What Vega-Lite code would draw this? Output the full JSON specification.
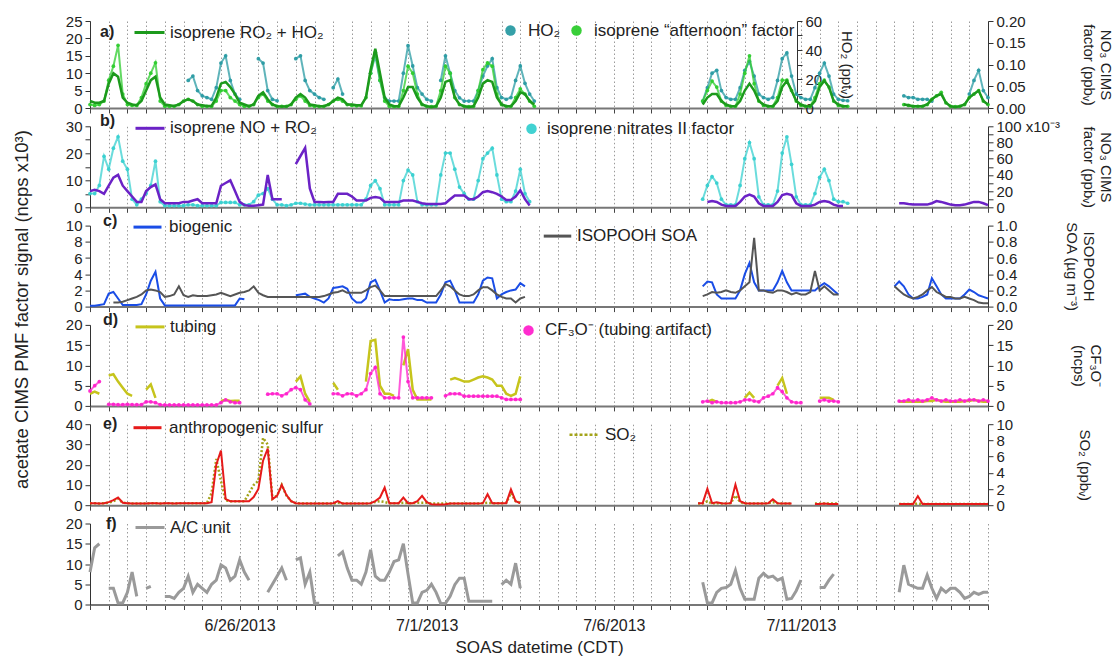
{
"$schema":"https://vega.github.io/schema/vega-lite/v6.json",
"padding":{"left":12,"top":14,"right":2,"bottom":2},
"background":"white",
"spacing":18.3,
"bounds":"flush",
"resolve":{"scale":{"color":"independent"},"legend":{"color":"independent"}},
"config":{
 "view":{"stroke":null},
 "font":"Liberation Sans",
 "axis":{"labelFont":"Liberation Sans","labelFontSize":15,"labelColor":"#222","titleFont":"Liberation Sans","titleFontSize":15,"titleFontWeight":"normal","titleColor":"#222","tickColor":"#333","domainColor":"#333","tickSize":5,"labelPadding":3,"grid":false,"labelOverlap":false,"labelFlush":false},
 "legend":{"labelFont":"Liberation Sans","labelFontSize":17,"labelColor":"#222","padding":0,"labelLimit":400},
 "title":{"font":"Liberation Sans","fontSize":16,"fontWeight":"bold","color":"#222","anchor":"start","frame":"group"}
},
"datasets":{"soas":[
{"t":"2013-06-22T00:00","ro2":2,"aft":0.008,"no":6,"nit":17,"bio":0.1,"tub":3,"cf3":3.7,"sulf":1,"so2":0.25,"ac":8},
{"t":"2013-06-22T03:00","ro2":1.5,"aft":0.006,"no":6.5,"nit":17,"bio":0.1,"tub":3.5,"cf3":5,"sulf":1,"so2":0.25,"ac":14},
{"t":"2013-06-22T06:00","ro2":1.5,"aft":0.008,"no":6,"nit":27,"bio":0.2,"tub":3,"cf3":6,"sulf":0.8,"so2":0.2,"ac":15},
{"t":"2013-06-22T09:00","ro2":2,"aft":0.016,"no":5,"nit":63,"bio":0.3,"sulf":1,"so2":0.25},
{"t":"2013-06-22T12:00","ro2":7,"aft":0.064,"no":8,"nit":47,"bio":1.6,"tub":7.5,"cf3":0.4,"sulf":1.5,"so2":0.3,"ac":4},
{"t":"2013-06-22T15:00","ro2":10,"aft":0.096,"no":11,"nit":73,"bio":1.8,"isop":0.05,"tub":7.8,"cf3":0.4,"sulf":2.5,"so2":0.5,"ac":4},
{"t":"2013-06-22T18:00","ro2":9,"aft":0.144,"no":12,"nit":87,"bio":1,"isop":0.05,"tub":6,"cf3":0.3,"sulf":3.8,"so2":0.8,"ac":0.4},
{"t":"2013-06-22T21:00","ro2":3,"aft":0.032,"no":8,"nit":57,"bio":0.2,"isop":0.06,"tub":4.5,"cf3":0.3,"sulf":1.2,"so2":0.3,"ac":0.4},
{"t":"2013-06-23T00:00","ro2":1.5,"aft":0.008,"no":6,"nit":47,"bio":0.2,"isop":0.08,"tub":3,"cf3":0.4,"sulf":1,"so2":0.25,"ac":3},
{"t":"2013-06-23T03:00","ro2":1,"aft":0.006,"no":4,"nit":10,"bio":0.2,"isop":0.1,"tub":2.5,"cf3":0.3,"sulf":0.8,"so2":0.2,"ac":8},
{"t":"2013-06-23T06:00","ro2":0.8,"aft":0.006,"no":2,"nit":3,"bio":0.2,"isop":0.12,"cf3":0.3,"sulf":0.8,"so2":0.2,"ac":2},
{"t":"2013-06-23T09:00","ro2":2,"aft":0.024,"no":2,"nit":10,"bio":0.3,"isop":0.15,"cf3":0.3,"sulf":0.8,"so2":0.2},
{"t":"2013-06-23T12:00","ro2":5,"aft":0.056,"no":6,"nit":17,"bio":1.5,"isop":0.2,"tub":4,"cf3":1,"sulf":0.9,"so2":0.2,"ac":4},
{"t":"2013-06-23T15:00","ro2":8,"aft":0.08,"no":7.5,"nit":27,"bio":3.2,"isop":0.21,"tub":5.3,"cf3":1,"sulf":1,"so2":0.25,"ac":4.5},
{"t":"2013-06-23T18:00","ro2":9,"aft":0.104,"no":8.5,"nit":57,"bio":4.3,"isop":0.2,"tub":2,"cf3":0.8,"sulf":1,"so2":0.25},
{"t":"2013-06-23T21:00","ro2":3,"aft":0.016,"no":3,"nit":7,"bio":1,"isop":0.18,"cf3":0.3,"sulf":0.8,"so2":0.2},
{"t":"2013-06-24T00:00","ro2":1,"aft":0.004,"no":1.5,"nit":2,"bio":0.15,"isop":0.12,"cf3":0.25,"sulf":1,"so2":0.25,"ac":2},
{"t":"2013-06-24T03:00","ro2":0.8,"aft":0.004,"no":1.5,"nit":2,"bio":0.15,"isop":0.13,"cf3":0.25,"sulf":1,"so2":0.25,"ac":2},
{"t":"2013-06-24T06:00","ro2":0.6,"aft":0.004,"no":1.5,"nit":2,"bio":0.15,"isop":0.15,"cf3":0.25,"sulf":0.9,"so2":0.2,"ac":1.5},
{"t":"2013-06-24T09:00","ro2":1,"aft":0.008,"no":1.5,"nit":2,"bio":0.15,"isop":0.25,"cf3":0.25,"sulf":1,"so2":0.25,"ac":3},
{"t":"2013-06-24T12:00","ro2":2,"aft":0.016,"no":2,"nit":2,"bio":0.15,"isop":0.14,"cf3":0.25,"sulf":1,"so2":0.25,"ac":4},
{"t":"2013-06-24T15:00","ro2":2.5,"ho2":19,"aft":0.02,"no":2,"nit":3,"bio":0.15,"isop":0.12,"cf3":0.25,"sulf":1,"so2":0.25,"ac":7},
{"t":"2013-06-24T18:00","ro2":2,"ho2":22,"aft":0.016,"no":2.5,"nit":3,"bio":0.15,"isop":0.14,"cf3":0.25,"sulf":1,"so2":0.25,"ac":3},
{"t":"2013-06-24T21:00","ro2":1,"ho2":12,"aft":0.008,"no":3,"nit":2,"bio":0.15,"isop":0.13,"cf3":0.25,"sulf":1,"so2":0.25,"ac":5},
{"t":"2013-06-25T00:00","ro2":0.8,"ho2":8.4,"aft":0.004,"no":1.5,"nit":2,"bio":0.15,"isop":0.13,"cf3":0.25,"sulf":1,"so2":0.25,"ac":4},
{"t":"2013-06-25T03:00","ro2":0.6,"ho2":7.2,"aft":0.004,"no":1.5,"nit":2,"bio":0.15,"isop":0.13,"cf3":0.25,"sulf":1,"so2":0.25,"ac":3},
{"t":"2013-06-25T06:00","ro2":0.6,"ho2":6,"aft":0.004,"no":1.5,"nit":2,"bio":0.15,"isop":0.14,"cf3":0.25,"sulf":1.5,"so2":1.5,"ac":5},
{"t":"2013-06-25T09:00","ro2":3,"ho2":14,"aft":0.016,"no":1.5,"nit":2,"bio":0.15,"isop":0.15,"cf3":0.25,"sulf":20,"so2":5.7,"ac":6},
{"t":"2013-06-25T12:00","ro2":7,"ho2":31,"aft":0.04,"no":8,"nit":6,"bio":0.15,"isop":0.17,"tub":1.2,"cf3":0.8,"sulf":27,"so2":3,"ac":9.8},
{"t":"2013-06-25T15:00","ro2":7.5,"ho2":36,"aft":0.04,"no":9,"nit":6,"bio":0.15,"isop":0.15,"tub":1.5,"cf3":1.5,"sulf":3,"so2":0.6,"ac":9},
{"t":"2013-06-25T18:00","ro2":6,"ho2":19,"aft":0.024,"no":10,"nit":6,"bio":0.15,"isop":0.13,"tub":1.2,"cf3":1,"sulf":2,"so2":0.5,"ac":6},
{"t":"2013-06-25T21:00","ro2":4,"ho2":9.6,"aft":0.016,"no":6,"nit":6,"bio":0.15,"isop":0.15,"tub":1.3,"cf3":0.8,"sulf":2,"so2":0.5,"ac":7},
{"t":"2013-06-26T00:00","ro2":1.5,"ho2":6,"aft":0.008,"no":2,"nit":3,"bio":1,"isop":0.17,"tub":1.3,"cf3":0.8,"sulf":2,"so2":0.5,"ac":11},
{"t":"2013-06-26T03:00","ro2":1,"aft":0.004,"no":0.8,"nit":3,"bio":0.9,"isop":0.18,"sulf":2,"so2":0.5,"ac":8},
{"t":"2013-06-26T06:00","ro2":0.5,"aft":0.004,"no":0.6,"nit":3,"isop":0.2,"sulf":2,"so2":1.5,"ac":6},
{"t":"2013-06-26T09:00","ro2":1,"aft":0.008,"no":0.6,"nit":7,"isop":0.25,"sulf":4,"so2":2.5},
{"t":"2013-06-26T12:00","ro2":3.5,"ho2":34,"aft":0.024,"no":0.8,"nit":15,"isop":0.17,"sulf":8,"so2":3},
{"t":"2013-06-26T15:00","ro2":4.5,"ho2":31,"aft":0.032,"no":1,"nit":17,"isop":0.14,"sulf":22,"so2":8.3},
{"t":"2013-06-26T18:00","ro2":2.5,"ho2":12,"aft":0.016,"no":12,"nit":23,"isop":0.12,"cf3":2.9,"sulf":28,"so2":7.5,"ac":3},
{"t":"2013-06-26T21:00","ro2":1,"ho2":6,"aft":0.008,"no":3,"nit":10,"isop":0.12,"cf3":3,"sulf":3,"so2":0.8,"ac":5},
{"t":"2013-06-27T00:00","ro2":0.5,"ho2":5,"aft":0.004,"no":3,"nit":3,"isop":0.12,"cf3":3,"sulf":4.6,"so2":1.2,"ac":7},
{"t":"2013-06-27T03:00","ro2":0.4,"aft":0.004,"no":3,"nit":3,"isop":0.12,"cf3":2.5,"sulf":10,"so2":2.5,"ac":9},
{"t":"2013-06-27T06:00","ro2":0.4,"aft":0.004,"nit":2,"isop":0.12,"cf3":3,"sulf":5,"so2":1.2,"ac":6},
{"t":"2013-06-27T09:00","ro2":1,"aft":0.008,"nit":3,"isop":0.12,"cf3":4,"sulf":2,"so2":0.5},
{"t":"2013-06-27T12:00","ro2":3,"ho2":34,"aft":0.02,"no":16,"nit":5,"bio":1.4,"isop":0.12,"tub":6,"cf3":4.5,"sulf":1,"so2":0.25,"ac":11},
{"t":"2013-06-27T15:00","ro2":4,"ho2":36,"aft":0.028,"no":19,"nit":5,"bio":1.5,"isop":0.12,"tub":7.3,"cf3":4,"sulf":0.8,"so2":0.2,"ac":11.5},
{"t":"2013-06-27T18:00","ro2":3,"ho2":19,"aft":0.016,"no":22,"nit":4,"bio":1.6,"isop":0.12,"tub":3,"cf3":1.5,"sulf":0.8,"so2":0.2,"ac":5},
{"t":"2013-06-27T21:00","ro2":1,"ho2":12,"aft":0.006,"no":7,"nit":3,"bio":1.2,"isop":0.12,"tub":1,"cf3":0.5,"sulf":0.8,"so2":0.2,"ac":8},
{"t":"2013-06-28T00:00","ro2":0.8,"ho2":9.6,"aft":0.004,"no":2,"nit":3,"bio":1,"isop":0.12,"sulf":0.8,"so2":0.2,"ac":0.3},
{"t":"2013-06-28T03:00","ro2":0.5,"ho2":7.2,"aft":0.004,"no":2,"nit":3,"bio":0.8,"isop":0.12,"sulf":0.8,"so2":0.2,"ac":0.3},
{"t":"2013-06-28T06:00","ro2":0.5,"ho2":6,"aft":0.004,"no":1.9,"nit":3,"bio":0.5,"isop":0.13,"sulf":0.8,"so2":0.2},
{"t":"2013-06-28T09:00","ro2":1,"aft":0.008,"no":2,"nit":3,"bio":1,"isop":0.15,"sulf":0.8,"so2":0.2},
{"t":"2013-06-28T12:00","ro2":2,"ho2":14,"aft":0.016,"no":2,"nit":3,"bio":2.3,"isop":0.17,"tub":5.7,"cf3":3,"sulf":1,"so2":0.2},
{"t":"2013-06-28T15:00","ro2":3,"ho2":20,"aft":0.02,"no":5,"nit":3,"bio":2.4,"isop":0.18,"tub":4,"cf3":3,"sulf":2,"so2":0.3,"ac":12},
{"t":"2013-06-28T18:00","ro2":2.5,"ho2":9.6,"aft":0.016,"no":5,"nit":3,"bio":2.5,"isop":0.2,"cf3":2.5,"sulf":0.8,"so2":0.2,"ac":13},
{"t":"2013-06-28T21:00","ro2":1,"aft":0.008,"no":5,"nit":3,"bio":2.2,"isop":0.17,"cf3":3,"sulf":0.8,"so2":0.2,"ac":9},
{"t":"2013-06-29T00:00","ro2":1,"aft":0.006,"no":4,"nit":3,"bio":1,"isop":0.17,"cf3":3,"sulf":0.8,"so2":0.2,"ac":6},
{"t":"2013-06-29T03:00","ro2":0.8,"aft":0.005,"no":2.5,"nit":3,"bio":0.5,"isop":0.17,"cf3":2.5,"sulf":0.8,"so2":0.2,"ac":6},
{"t":"2013-06-29T06:00","ro2":0.8,"aft":0.005,"no":2.5,"nit":3,"bio":0.5,"isop":0.17,"cf3":3,"sulf":0.8,"so2":0.2,"ac":5},
{"t":"2013-06-29T09:00","ro2":3,"aft":0.024,"no":2.5,"nit":10,"bio":1,"isop":0.2,"tub":6,"cf3":4,"sulf":0.8,"so2":0.2,"ac":8},
{"t":"2013-06-29T12:00","ro2":11,"ho2":24,"aft":0.08,"no":3.5,"nit":27,"bio":3,"isop":0.24,"tub":16,"cf3":8,"sulf":1,"so2":0.25,"ac":13.5},
{"t":"2013-06-29T15:00","ro2":17,"ho2":36,"aft":0.128,"no":3.8,"nit":33,"bio":3.3,"isop":0.26,"tub":16.3,"cf3":9.5,"sulf":2,"so2":0.4,"ac":7},
{"t":"2013-06-29T18:00","ro2":10,"ho2":19,"aft":0.064,"no":3.5,"nit":23,"bio":2,"isop":0.2,"tub":5,"cf3":3,"sulf":3.8,"so2":0.5,"ac":6},
{"t":"2013-06-29T21:00","ro2":3,"ho2":7,"aft":0.016,"no":2,"nit":3,"bio":0.5,"isop":0.13,"tub":3,"cf3":2,"sulf":8.7,"so2":0.4,"ac":6},
{"t":"2013-06-30T00:00","ro2":1,"ho2":4.8,"aft":0.004,"no":2,"nit":3,"bio":0.9,"isop":0.13,"tub":3,"cf3":2,"sulf":1,"so2":0.25,"ac":8},
{"t":"2013-06-30T03:00","ro2":0.5,"ho2":4.8,"aft":0.003,"no":2,"nit":3,"bio":0.8,"isop":0.13,"tub":2.5,"cf3":2,"sulf":1,"so2":0.25,"ac":10.6},
{"t":"2013-06-30T06:00","ro2":0.5,"ho2":4.8,"aft":0.004,"no":2,"nit":3,"bio":0.8,"isop":0.13,"cf3":2,"sulf":1,"so2":0.25,"ac":11},
{"t":"2013-06-30T09:00","ro2":3,"ho2":24,"aft":0.04,"no":2.5,"nit":33,"bio":0.9,"isop":0.13,"tub":10,"cf3":17,"sulf":3.8,"so2":0.3,"ac":15},
{"t":"2013-06-30T12:00","ro2":6,"ho2":43,"aft":0.096,"no":2.5,"nit":46,"bio":1,"isop":0.13,"tub":14,"cf3":6,"sulf":1,"so2":0.25,"ac":7.5},
{"t":"2013-06-30T15:00","ro2":6,"ho2":29,"aft":0.08,"no":2.5,"nit":40,"bio":1,"isop":0.13,"tub":4,"cf3":2,"sulf":1,"so2":0.25,"ac":0.4},
{"t":"2013-06-30T18:00","ro2":3,"ho2":14,"aft":0.032,"no":2,"nit":7,"bio":0.8,"isop":0.13,"tub":1.6,"cf3":2,"sulf":2,"so2":0.3,"ac":0.4},
{"t":"2013-06-30T21:00","ro2":1,"ho2":9.6,"aft":0.008,"no":1.5,"nit":3,"bio":0.8,"isop":0.13,"tub":1.6,"cf3":2,"sulf":4.6,"so2":0.3,"ac":3},
{"t":"2013-07-01T00:00","ro2":0.5,"ho2":6,"aft":0.004,"no":1.2,"nit":3,"bio":0.5,"isop":0.13,"tub":1.6,"cf3":2,"sulf":1.5,"so2":0.3,"ac":3.5},
{"t":"2013-07-01T03:00","ro2":0.3,"ho2":4.8,"aft":0.003,"no":1.2,"nit":3,"bio":0.5,"isop":0.13,"tub":1.6,"cf3":2,"sulf":0.5,"so2":0.2,"ac":5},
{"t":"2013-07-01T06:00","ro2":0.5,"aft":0.004,"no":1.2,"nit":3,"bio":0.5,"isop":0.13,"sulf":0.3,"so2":0.2,"ac":3},
{"t":"2013-07-01T09:00","ro2":3,"ho2":19,"aft":0.04,"no":1.2,"nit":40,"bio":1.5,"isop":0.2,"sulf":0.3,"so2":0.2,"ac":0.2},
{"t":"2013-07-01T12:00","ro2":7.5,"ho2":36,"aft":0.096,"no":1.5,"nit":67,"bio":3,"isop":0.28,"cf3":2.5,"sulf":0.5,"so2":0.2,"ac":0.3},
{"t":"2013-07-01T15:00","ro2":8,"ho2":24,"aft":0.08,"no":3,"nit":67,"bio":3.2,"isop":0.25,"tub":6.5,"cf3":3,"sulf":0.8,"so2":0.2,"ac":2},
{"t":"2013-07-01T18:00","ro2":3,"ho2":12,"aft":0.024,"no":4.4,"nit":47,"bio":2,"isop":0.2,"tub":6.9,"cf3":3,"sulf":0.8,"so2":0.2,"ac":4.9},
{"t":"2013-07-01T21:00","ro2":1,"ho2":7,"aft":0.008,"no":4.4,"nit":25,"bio":0.5,"isop":0.15,"tub":6.5,"cf3":3,"sulf":0.8,"so2":0.2,"ac":6.5},
{"t":"2013-07-02T00:00","ro2":0.5,"ho2":4.8,"aft":0.004,"no":4.4,"nit":17,"bio":0.5,"isop":0.13,"tub":6,"cf3":2.4,"sulf":0.8,"so2":0.2,"ac":6.5},
{"t":"2013-07-02T03:00","ro2":0.3,"ho2":4.8,"aft":0.003,"no":3,"nit":10,"bio":0.5,"isop":0.13,"tub":6,"cf3":2.4,"sulf":0.8,"so2":0.2,"ac":0.8},
{"t":"2013-07-02T06:00","ro2":0.5,"ho2":4.8,"aft":0.004,"no":3,"nit":10,"bio":0.5,"isop":0.15,"tub":6.5,"cf3":2.4,"sulf":0.8,"so2":0.2,"ac":0.8},
{"t":"2013-07-02T09:00","ro2":3,"ho2":12,"aft":0.04,"no":4,"nit":33,"bio":1.5,"isop":0.2,"tub":7,"cf3":2.4,"sulf":0.8,"so2":0.2,"ac":0.8},
{"t":"2013-07-02T12:00","ro2":7,"ho2":22,"aft":0.088,"no":5.6,"nit":60,"bio":3.2,"isop":0.24,"tub":7.3,"cf3":2.4,"sulf":1,"so2":0.25,"ac":0.8},
{"t":"2013-07-02T15:00","ro2":8,"ho2":29,"aft":0.104,"no":6,"nit":67,"bio":3.6,"isop":0.24,"tub":7,"cf3":2.4,"sulf":5.4,"so2":0.3,"ac":0.8},
{"t":"2013-07-02T18:00","ro2":7.5,"ho2":34,"aft":0.096,"no":5.6,"nit":73,"bio":3.5,"isop":0.2,"tub":6.5,"cf3":2.4,"sulf":1,"so2":0.25,"ac":0.8},
{"t":"2013-07-02T21:00","ro2":3,"ho2":14,"aft":0.032,"no":5,"nit":40,"bio":1,"isop":0.15,"tub":5,"cf3":2.4,"sulf":1,"so2":0.25},
{"t":"2013-07-03T00:00","ro2":1,"ho2":7.2,"aft":0.008,"no":4,"nit":10,"bio":1.5,"isop":0.12,"tub":5,"cf3":2,"sulf":1,"so2":0.25,"ac":4.9},
{"t":"2013-07-03T03:00","ro2":0.5,"ho2":6,"aft":0.004,"no":2.7,"nit":7,"bio":1.8,"isop":0.1,"tub":3,"cf3":1.6,"sulf":1,"so2":0.3,"ac":6},
{"t":"2013-07-03T06:00","ro2":0.5,"ho2":7.2,"aft":0.004,"no":2.7,"nit":7,"bio":2,"isop":0.1,"tub":2.5,"cf3":1.6,"sulf":7.8,"so2":1.5,"ac":5},
{"t":"2013-07-03T09:00","ro2":2,"ho2":19,"aft":0.024,"no":4,"nit":20,"bio":2.1,"isop":0.05,"tub":3,"cf3":1.6,"sulf":2,"so2":0.5,"ac":10.2},
{"t":"2013-07-03T12:00","ro2":4.5,"ho2":29,"aft":0.044,"no":6.3,"nit":47,"bio":2.9,"isop":0.1,"tub":7.3,"cf3":1.6,"sulf":1,"so2":0.3,"ac":4},
{"t":"2013-07-03T15:00","ro2":4,"ho2":17,"aft":0.032,"no":3,"nit":17,"bio":2.5,"isop":0.12},
{"t":"2013-07-03T18:00","ro2":2,"ho2":9.6,"aft":0.016,"no":0.7,"nit":7},
{"t":"2013-07-03T21:00","ro2":1,"ho2":4.8,"aft":0.004},
{"t":"2013-07-05T12:00"},
{"t":"2013-07-08T06:00","sulf":1,"so2":0.2},
{"t":"2013-07-08T09:00","ro2":1,"ho2":4.8,"aft":0.016,"nit":10,"bio":2.5,"isop":0.13,"cf3":1,"sulf":1,"so2":0.2,"ac":5.5},
{"t":"2013-07-08T12:00","ro2":3,"ho2":14,"aft":0.04,"no":2,"nit":27,"bio":3.1,"isop":0.15,"tub":1,"cf3":1.2,"sulf":8.1,"so2":0.5,"ac":0.4},
{"t":"2013-07-08T15:00","ro2":4,"ho2":24,"aft":0.062,"no":2.3,"nit":38,"bio":3,"isop":0.18,"tub":1.5,"cf3":0.8,"sulf":1,"so2":0.2,"ac":0.4},
{"t":"2013-07-08T18:00","ro2":4,"ho2":26,"aft":0.048,"no":2,"nit":30,"bio":1.5,"isop":0.17,"tub":1,"cf3":1,"sulf":1.5,"so2":0.25,"ac":3},
{"t":"2013-07-08T21:00","ro2":2,"ho2":12,"aft":0.016,"no":1,"nit":10,"bio":1,"isop":0.18,"cf3":0.8,"sulf":1,"so2":0.2,"ac":4},
{"t":"2013-07-09T00:00","ro2":1,"ho2":7.2,"aft":0.006,"no":0.5,"nit":3,"bio":1,"isop":0.2,"cf3":0.8,"sulf":0.8,"so2":0.2,"ac":4.2},
{"t":"2013-07-09T03:00","ro2":0.5,"ho2":6,"aft":0.004,"no":0.5,"nit":3,"bio":1,"isop":0.18,"cf3":0.8,"sulf":1,"so2":0.25,"ac":5},
{"t":"2013-07-09T06:00","ro2":0.5,"ho2":6,"aft":0.004,"no":0.5,"nit":3,"bio":1,"isop":0.17,"cf3":0.8,"sulf":10.2,"so2":1.2,"ac":8.4},
{"t":"2013-07-09T09:00","ro2":2,"ho2":14,"aft":0.032,"no":2,"nit":27,"bio":2,"isop":0.2,"cf3":1,"sulf":2,"so2":0.4,"ac":4},
{"t":"2013-07-09T12:00","ro2":5,"ho2":26,"aft":0.08,"no":4,"nit":60,"bio":4,"isop":0.25,"tub":2,"cf3":1.5,"sulf":1,"so2":0.2,"ac":1.3},
{"t":"2013-07-09T15:00","ro2":7,"ho2":32,"aft":0.12,"no":4.7,"nit":80,"bio":5.4,"isop":0.3,"tub":3.3,"cf3":1.5,"sulf":0.8,"so2":0.2,"ac":1.3},
{"t":"2013-07-09T18:00","ro2":5,"ho2":22,"aft":0.056,"no":4,"nit":60,"bio":3,"isop":0.85,"tub":2,"cf3":1.2,"sulf":0.8,"so2":0.2,"ac":1.3},
{"t":"2013-07-09T21:00","ro2":2,"ho2":9.6,"aft":0.016,"no":1.5,"nit":13,"bio":2,"isop":0.2,"cf3":1,"sulf":0.8,"so2":0.2,"ac":6.5},
{"t":"2013-07-10T00:00","ro2":1,"ho2":7.2,"aft":0.006,"no":0.5,"nit":3,"bio":2,"isop":0.2,"cf3":2,"sulf":0.8,"so2":0.2,"ac":7.7},
{"t":"2013-07-10T03:00","ro2":0.5,"ho2":6,"aft":0.004,"no":0.5,"nit":3,"bio":2,"isop":0.18,"cf3":2.4,"sulf":1,"so2":0.25,"ac":6.7},
{"t":"2013-07-10T06:00","ro2":0.5,"ho2":7.2,"aft":0.004,"no":0.5,"nit":3,"bio":2,"isop":0.17,"cf3":3,"sulf":2.9,"so2":0.4,"ac":7},
{"t":"2013-07-10T09:00","ro2":2,"ho2":19,"aft":0.024,"no":2,"nit":20,"bio":3,"isop":0.2,"tub":5,"cf3":4.5,"sulf":1,"so2":0.25,"ac":6},
{"t":"2013-07-10T12:00","ro2":6,"ho2":34,"aft":0.064,"no":4.5,"nit":67,"bio":4.4,"isop":0.2,"tub":6.9,"cf3":3.5,"sulf":0.8,"so2":0.2,"ac":6.5},
{"t":"2013-07-10T15:00","ro2":7.8,"ho2":38,"aft":0.064,"no":5,"nit":87,"bio":3,"isop":0.18,"tub":3,"cf3":2,"sulf":0.8,"so2":0.2,"ac":1.3},
{"t":"2013-07-10T18:00","ro2":5,"ho2":22,"aft":0.04,"no":4.5,"nit":53,"bio":2,"isop":0.15,"cf3":1,"sulf":0.8,"so2":0.2,"ac":1.5},
{"t":"2013-07-10T21:00","ro2":2,"ho2":9.6,"aft":0.016,"no":1.5,"nit":13,"bio":2,"isop":0.17,"cf3":0.8,"ac":3.4},
{"t":"2013-07-11T00:00","ro2":1,"ho2":7.2,"aft":0.006,"no":0.5,"nit":3,"bio":2,"isop":0.15,"cf3":0.8,"ac":6},
{"t":"2013-07-11T03:00","ro2":0.5,"ho2":6,"aft":0.004,"no":0.5,"nit":3,"bio":2,"isop":0.15},
{"t":"2013-07-11T06:00","ro2":0.5,"ho2":6,"aft":0.004,"no":0.5,"nit":3,"bio":2,"isop":0.18},
{"t":"2013-07-11T09:00","ro2":2,"ho2":14,"aft":0.024,"no":1,"nit":17,"bio":2,"isop":0.44,"sulf":0.6,"so2":0.2},
{"t":"2013-07-11T12:00","ro2":6,"ho2":24,"aft":0.056,"no":2,"nit":37,"bio":2.5,"isop":0.2,"tub":2,"cf3":1.2,"sulf":0.6,"so2":0.2,"ac":4.2},
{"t":"2013-07-11T15:00","ro2":7.8,"ho2":31,"aft":0.064,"no":2.3,"nit":47,"bio":2.9,"isop":0.25,"tub":2,"cf3":1.5,"sulf":0.8,"so2":0.2,"ac":4.2},
{"t":"2013-07-11T18:00","ro2":6,"ho2":22,"aft":0.048,"no":2,"nit":33,"bio":2.5,"isop":0.2,"tub":2,"cf3":1.2,"sulf":0.6,"so2":0.2,"ac":6},
{"t":"2013-07-11T21:00","ro2":2,"ho2":9.6,"aft":0.016,"no":1,"nit":10,"bio":2,"isop":0.15,"tub":1.5,"cf3":1.2,"sulf":0.6,"so2":0.2,"ac":7.5},
{"t":"2013-07-12T00:00","ro2":1,"ho2":6,"aft":0.006,"no":0.5,"nit":7,"bio":1.5,"isop":0.15,"cf3":1,"sulf":0.6,"so2":0.2},
{"t":"2013-07-12T03:00","ro2":0.5,"ho2":5.3,"aft":0.004,"no":0.5,"nit":7},
{"t":"2013-07-12T06:00","ro2":0.5,"ho2":5,"aft":0.004,"nit":5},
{"t":"2013-07-12T18:00"},
{"t":"2013-07-13T12:00","bio":2.5,"isop":0.25},
{"t":"2013-07-13T15:00","no":1.5,"bio":3.1,"isop":0.2,"tub":1,"cf3":1.2,"sulf":0.6,"so2":0.15,"ac":3},
{"t":"2013-07-13T18:00","ro2":1,"ho2":8.4,"aft":0.008,"no":1.5,"bio":2.5,"isop":0.15,"tub":1,"cf3":1.2,"sulf":0.6,"so2":0.15,"ac":9.7},
{"t":"2013-07-13T21:00","ro2":0.8,"ho2":7.2,"aft":0.006,"no":1.2,"bio":1.5,"isop":0.12,"tub":1,"cf3":1.5,"sulf":0.6,"so2":0.15,"ac":5},
{"t":"2013-07-14T00:00","ro2":0.5,"ho2":7.2,"aft":0.004,"no":1,"bio":1,"isop":0.1,"tub":1,"cf3":1.2,"sulf":0.6,"so2":0.15,"ac":4.5},
{"t":"2013-07-14T03:00","ro2":0.5,"ho2":6,"aft":0.004,"no":1,"bio":1,"isop":0.12,"tub":1,"cf3":1.5,"sulf":4.5,"so2":0.2,"ac":4},
{"t":"2013-07-14T06:00","ro2":0.5,"ho2":6,"aft":0.004,"no":1,"bio":1.2,"isop":0.15,"tub":1,"cf3":1.2,"sulf":0.6,"so2":0.15,"ac":4},
{"t":"2013-07-14T09:00","ro2":1,"ho2":6,"aft":0.008,"no":1,"bio":1.5,"isop":0.2,"tub":1.2,"cf3":1.5,"sulf":0.6,"so2":0.15,"ac":7.3},
{"t":"2013-07-14T12:00","ro2":2.5,"ho2":4.8,"aft":0.02,"no":1.5,"bio":3.5,"isop":0.24,"tub":1.2,"cf3":2,"sulf":0.6,"so2":0.15,"ac":4},
{"t":"2013-07-14T15:00","ro2":3.5,"aft":0.028,"no":2.3,"bio":2.5,"isop":0.18,"tub":1.5,"cf3":1.5,"sulf":0.6,"so2":0.15,"ac":1.5},
{"t":"2013-07-14T18:00","ro2":4,"aft":0.036,"no":2,"bio":1.5,"isop":0.15,"tub":1.2,"cf3":1.2,"sulf":0.6,"so2":0.15,"ac":4},
{"t":"2013-07-14T21:00","ro2":1.5,"aft":0.012,"no":1.5,"bio":1,"isop":0.12,"tub":1,"cf3":1.5,"sulf":0.6,"so2":0.15,"ac":3},
{"t":"2013-07-15T00:00","ro2":0.5,"aft":0.004,"no":1,"bio":1,"isop":0.12,"tub":1,"cf3":1.2,"sulf":0.6,"so2":0.15,"ac":4},
{"t":"2013-07-15T03:00","ro2":0.3,"aft":0.003,"no":0.8,"bio":1,"isop":0.1,"tub":1,"cf3":1.2,"sulf":0.6,"so2":0.15,"ac":4},
{"t":"2013-07-15T06:00","ro2":0.5,"aft":0.004,"no":0.8,"bio":1,"isop":0.1,"tub":1,"cf3":1.5,"sulf":0.6,"so2":0.15,"ac":3},
{"t":"2013-07-15T09:00","ro2":1,"aft":0.008,"no":1,"bio":1.5,"isop":0.12,"tub":1.2,"cf3":1.2,"sulf":0.6,"so2":0.15,"ac":1.5},
{"t":"2013-07-15T12:00","ro2":3,"ho2":9.6,"aft":0.024,"no":1.5,"bio":2.1,"isop":0.1,"tub":1.2,"cf3":1.5,"sulf":0.6,"so2":0.15,"ac":2},
{"t":"2013-07-15T15:00","ro2":4,"ho2":19,"aft":0.032,"no":2,"bio":1.8,"isop":0.08,"tub":1.5,"cf3":1.5,"sulf":0.6,"so2":0.15,"ac":3},
{"t":"2013-07-15T18:00","ro2":5,"ho2":26,"aft":0.04,"no":2,"bio":1.4,"isop":0.05,"tub":1.2,"cf3":1.2,"sulf":0.6,"so2":0.15,"ac":2.5},
{"t":"2013-07-15T21:00","ro2":2,"ho2":12,"aft":0.016,"no":1.5,"bio":1.2,"isop":0.04,"tub":1,"cf3":1.5,"sulf":0.6,"so2":0.15,"ac":3},
{"t":"2013-07-16T00:00","ro2":1,"ho2":7.2,"aft":0.008,"no":0.8,"bio":1,"isop":0.04,"tub":1,"cf3":1.2,"sulf":0.6,"so2":0.15,"ac":3}
]},
"vconcat":[
{
 "width":898,"height":87,
 "title":{"text":"a)","dx":10,"offset":-26},
 "data":{"name":"soas"},
 "resolve":{"scale":{"y":"independent","color":"independent"},"axis":{"y":"independent"},"legend":{"color":"independent"}},
 "layer":[
  {"layer":[
   {"mark":{"type":"line","color":"#2a9ba3","strokeWidth":2,"opacity":0.75},
    "encoding":{"x":{"field":"t","type":"temporal","scale":{"domain":["2013-06-22T00:00","2013-07-16T00:00"],"nice":false},"axis":{"tickCount":48,"labels":false,"title":null,"grid":true,"gridDash":[1.5,2.5],"gridColor":"#9a9a9a","domainColor":"#777","domainWidth":2,"tickColor":"#444"}},
     "y":{"field":"ho2","type":"quantitative","scale":{"domain":[0,60],"nice":false},"axis":{"orient":"right","offset":-191,"values":[0,10,20,30,40,50,60],"labelOverlap":false,"labelExpr":"datum.value % 20 == 0 ? datum.label : ''","title":"HO₂ (pptᵥ)","titleX":41}}}},
   {"mark":{"type":"point","filled":true,"size":14,"opacity":0.95},
    "encoding":{"x":{"field":"t","type":"temporal"},
     "y":{"field":"ho2","type":"quantitative","scale":{"domain":[0,60],"nice":false},"axis":{"orient":"right","offset":-191,"values":[0,10,20,30,40,50,60],"labelOverlap":false,"labelExpr":"datum.value % 20 == 0 ? datum.label : ''","title":"HO₂ (pptᵥ)","titleX":41}},
     "color":{"datum":"HO₂","scale":{"range":["#2a9ba3"]},"legend":{"orient":"none","legendX":412,"legendY":1,"title":null,"symbolSize":110,"labelOffset":9}}}}
  ]},
  {"layer":[
   {"mark":{"type":"line","color":"#2ecc2e","strokeWidth":2,"opacity":0.75},
    "encoding":{"x":{"field":"t","type":"temporal"},
     "y":{"field":"aft","type":"quantitative","scale":{"domain":[0,0.2],"nice":false},"axis":{"orient":"right","values":[0,0.05,0.1,0.15,0.2],"format":".2f","labelOverlap":false,"title":["NO₃ CIMS","factor (ppbᵥ)"],"titleX":109}}}},
   {"mark":{"type":"point","filled":true,"size":14,"opacity":0.95},
    "encoding":{"x":{"field":"t","type":"temporal"},
     "y":{"field":"aft","type":"quantitative","scale":{"domain":[0,0.2],"nice":false},"axis":{"orient":"right","values":[0,0.05,0.1,0.15,0.2],"format":".2f","labelOverlap":false,"title":["NO₃ CIMS","factor (ppbᵥ)"],"titleX":109}},
     "color":{"datum":"isoprene “afternoon” factor","scale":{"range":["#2ecc2e"]},"legend":{"orient":"none","legendX":478,"legendY":1,"title":null,"symbolSize":110,"labelOffset":9}}}}
  ]},
  {"mark":{"type":"line","strokeWidth":2.5},
   "encoding":{"x":{"field":"t","type":"temporal"},
    "y":{"field":"ro2","type":"quantitative","scale":{"domain":[0,25],"nice":false},"axis":{"orient":"left","values":[0,5,10,15,20,25],"title":"acetate CIMS PMF factor signal (ncps x10³)","titleFontSize":18.5,"titleX":-59,"titleY":288}},
    "color":{"datum":"isoprene RO₂ + HO₂","scale":{"range":["#1c9a1c"]},"legend":{"orient":"none","legendX":43,"legendY":-5,"title":null,"symbolSize":900,"symbolStrokeWidth":3,"labelOffset":4}}}}
 ]
},
{
 "width":898,"height":81,
 "title":{"text":"b)","dx":10,"offset":-17},
 "data":{"name":"soas"},
 "resolve":{"scale":{"y":"independent","color":"independent"},"axis":{"y":"independent"},"legend":{"color":"independent"}},
 "layer":[
  {"layer":[
   {"mark":{"type":"line","color":"#38d0d0","strokeWidth":2,"opacity":0.75},
    "encoding":{"x":{"field":"t","type":"temporal","scale":{"domain":["2013-06-22T00:00","2013-07-16T00:00"],"nice":false},"axis":{"tickCount":48,"labels":false,"title":null,"grid":true,"gridDash":[1.5,2.5],"gridColor":"#9a9a9a","domainColor":"#777","domainWidth":2,"tickColor":"#444"}},
     "y":{"field":"nit","type":"quantitative","scale":{"domain":[0,100],"nice":false},"axis":{"orient":"right","values":[0,10,20,30,40,50,60,70,80,90,100],"labelOverlap":false,"labelExpr":"datum.value == 100 ? '100 x10⁻³' : (datum.value % 20 == 0 ? datum.label : '')","title":["NO₃ CIMS","factor (ppbᵥ)"],"titleX":109}}}},
   {"mark":{"type":"point","filled":true,"size":14,"opacity":0.95},
    "encoding":{"x":{"field":"t","type":"temporal"},
     "y":{"field":"nit","type":"quantitative","scale":{"domain":[0,100],"nice":false},"axis":{"orient":"right","values":[0,10,20,30,40,50,60,70,80,90,100],"labelOverlap":false,"labelExpr":"datum.value == 100 ? '100 x10⁻³' : (datum.value % 20 == 0 ? datum.label : '')","title":["NO₃ CIMS","factor (ppbᵥ)"],"titleX":109}},
     "color":{"datum":"isoprene nitrates II factor","scale":{"range":["#38d0d0"]},"legend":{"orient":"none","legendX":433,"legendY":-6,"title":null,"symbolSize":110,"labelOffset":7}}}}
  ]},
  {"mark":{"type":"line","strokeWidth":2.5},
   "encoding":{"x":{"field":"t","type":"temporal"},
    "y":{"field":"no","type":"quantitative","scale":{"domain":[0,30],"nice":false},"axis":{"orient":"left","values":[0,5,10,15,20,25,30],"labelOverlap":false,"labelExpr":"datum.value % 10 == 0 ? datum.label : ''","title":null}},
    "color":{"datum":"isoprene NO + RO₂","scale":{"range":["#6b22c6"]},"legend":{"orient":"none","legendX":44,"legendY":-14,"title":null,"symbolSize":841,"symbolStrokeWidth":3,"labelOffset":4}}}}
 ]
},
{
 "width":898,"height":81,
 "title":{"text":"c)","dx":13,"offset":-17},
 "data":{"name":"soas"},
 "resolve":{"scale":{"y":"independent","color":"independent"},"axis":{"y":"independent"},"legend":{"color":"independent"}},
 "layer":[
  {"mark":{"type":"line","strokeWidth":2},
   "encoding":{"x":{"field":"t","type":"temporal","scale":{"domain":["2013-06-22T00:00","2013-07-16T00:00"],"nice":false},"axis":{"tickCount":48,"labels":false,"title":null,"grid":true,"gridDash":[1.5,2.5],"gridColor":"#9a9a9a","domainColor":"#777","domainWidth":2,"tickColor":"#444"}},
    "y":{"field":"bio","type":"quantitative","scale":{"domain":[0,10],"nice":false},"axis":{"orient":"left","values":[0,2,4,6,8,10],"title":null}},
    "color":{"datum":"biogenic","scale":{"range":["#1a4de6"]},"legend":{"orient":"none","legendX":42,"legendY":-14,"title":null,"symbolSize":784,"symbolStrokeWidth":3,"labelOffset":6}}}},
  {"mark":{"type":"line","strokeWidth":2},
   "encoding":{"x":{"field":"t","type":"temporal"},
    "y":{"field":"isop","type":"quantitative","scale":{"domain":[0,1],"nice":false},"axis":{"orient":"right","values":[0,0.2,0.4,0.6,0.8,1],"format":".1f","title":["ISOPOOH","SOA (µg m⁻³)"],"titleX":92}},
    "color":{"datum":"ISOPOOH SOA","scale":{"range":["#555555"]},"legend":{"orient":"none","legendX":452,"legendY":-5,"title":null,"symbolSize":756,"symbolStrokeWidth":3,"labelOffset":4}}}}
 ]
},
{
 "width":898,"height":81,
 "title":{"text":"d)","dx":13,"offset":-17},
 "data":{"name":"soas"},
 "resolve":{"scale":{"y":"independent","color":"independent"},"axis":{"y":"independent"},"legend":{"color":"independent"}},
 "layer":[
  {"mark":{"type":"line","strokeWidth":2.5},
   "encoding":{"x":{"field":"t","type":"temporal","scale":{"domain":["2013-06-22T00:00","2013-07-16T00:00"],"nice":false},"axis":{"tickCount":48,"labels":false,"title":null,"grid":true,"gridDash":[1.5,2.5],"gridColor":"#9a9a9a","domainColor":"#777","domainWidth":2,"tickColor":"#444"}},
    "y":{"field":"tub","type":"quantitative","scale":{"domain":[0,20],"nice":false},"axis":{"orient":"left","values":[0,5,10,15,20],"title":null}},
    "color":{"datum":"tubing","scale":{"range":["#c6c41c"]},"legend":{"orient":"none","legendX":44,"legendY":-14,"title":null,"symbolSize":841,"symbolStrokeWidth":3,"labelOffset":4}}}},
  {"layer":[
   {"mark":{"type":"line","color":"#ff22cc","strokeWidth":2,"opacity":0.75},
    "encoding":{"x":{"field":"t","type":"temporal"},
     "y":{"field":"cf3","type":"quantitative","scale":{"domain":[0,20],"nice":false},"axis":{"orient":"right","values":[0,5,10,15,20],"labelOverlap":false,"title":["CF₃O⁻","(ncps)"],"titleX":99}}}},
   {"mark":{"type":"point","filled":true,"size":14,"opacity":0.95},
    "encoding":{"x":{"field":"t","type":"temporal"},
     "y":{"field":"cf3","type":"quantitative","scale":{"domain":[0,20],"nice":false},"axis":{"orient":"right","values":[0,5,10,15,20],"labelOverlap":false,"title":["CF₃O⁻","(ncps)"],"titleX":99}},
     "color":{"datum":"CF₃O⁻ (tubing artifact)","scale":{"range":["#ff22cc"]},"legend":{"orient":"none","legendX":430,"legendY":-3,"title":null,"symbolSize":110,"labelOffset":8}}}}
  ]}
 ]
},
{
 "width":898,"height":81,
 "title":{"text":"e)","dx":13,"offset":-20},
 "data":{"name":"soas"},
 "resolve":{"scale":{"y":"independent","color":"independent"},"axis":{"y":"independent"},"legend":{"color":"independent"}},
 "layer":[
  {"mark":{"type":"line","strokeWidth":2.5,"strokeDash":[2,2]},
   "encoding":{"x":{"field":"t","type":"temporal","scale":{"domain":["2013-06-22T00:00","2013-07-16T00:00"],"nice":false},"axis":{"tickCount":48,"labels":false,"title":null,"grid":true,"gridDash":[1.5,2.5],"gridColor":"#9a9a9a","domainColor":"#777","domainWidth":2,"tickColor":"#444"}},
    "y":{"field":"so2","type":"quantitative","scale":{"domain":[0,10],"nice":false},"axis":{"orient":"right","values":[0,2,4,6,8,10],"title":"SO₂ (ppbᵥ)","titleX":88}},
    "color":{"datum":"SO₂","scale":{"range":["#a3a318"]},"legend":{"orient":"none","legendX":478,"legendY":-6,"title":null,"symbolSize":900,"symbolStrokeWidth":2.5,"symbolDash":[3,2],"labelOffset":4}}}},
  {"mark":{"type":"line","strokeWidth":2},
   "encoding":{"x":{"field":"t","type":"temporal"},
    "y":{"field":"sulf","type":"quantitative","scale":{"domain":[0,40],"nice":false},"axis":{"orient":"left","values":[0,10,20,30,40],"title":null}},
    "color":{"datum":"anthropogenic sulfur","scale":{"range":["#e61a1a"]},"legend":{"orient":"none","legendX":42,"legendY":-12,"title":null,"symbolSize":784,"symbolStrokeWidth":3,"labelOffset":6}}}}
 ]
},
{
 "width":898,"height":81,
 "title":{"text":"f)","dx":16,"offset":-20},
 "data":{"name":"soas"},
 "resolve":{"legend":{"color":"independent"}},
 "layer":[
 {"mark":{"type":"line","strokeWidth":3},
 "encoding":{
  "x":{"field":"t","type":"temporal","scale":{"domain":["2013-06-22T00:00","2013-07-16T00:00"],"nice":false},
   "axis":{"tickCount":48,"grid":true,"gridDash":[1.5,2.5],"gridColor":"#9a9a9a","domainColor":"#777","domainWidth":2,"tickColor":"#444",
    "labelExpr":"(timeFormat(datum.value, '%m%d%H') == '062600' || timeFormat(datum.value, '%m%d%H') == '070100' || timeFormat(datum.value, '%m%d%H') == '070600' || timeFormat(datum.value, '%m%d%H') == '071100') ? timeFormat(datum.value, '%-m/%-d/%Y') : ''",
    "labelFontSize":16,"labelPadding":8,"title":"SOAS datetime (CDT)","titleFontSize":17,"titlePadding":6}},
  "y":{"field":"ac","type":"quantitative","scale":{"domain":[0,20],"nice":false},"axis":{"orient":"left","values":[0,5,10,15,20],"title":null}},
  "color":{"datum":"A/C unit","scale":{"range":["#9a9a9a"]},"legend":{"orient":"none","legendX":44,"legendY":-12,"title":null,"symbolSize":841,"symbolStrokeWidth":3,"labelOffset":4}}
 }}
 ]
}
]
}
